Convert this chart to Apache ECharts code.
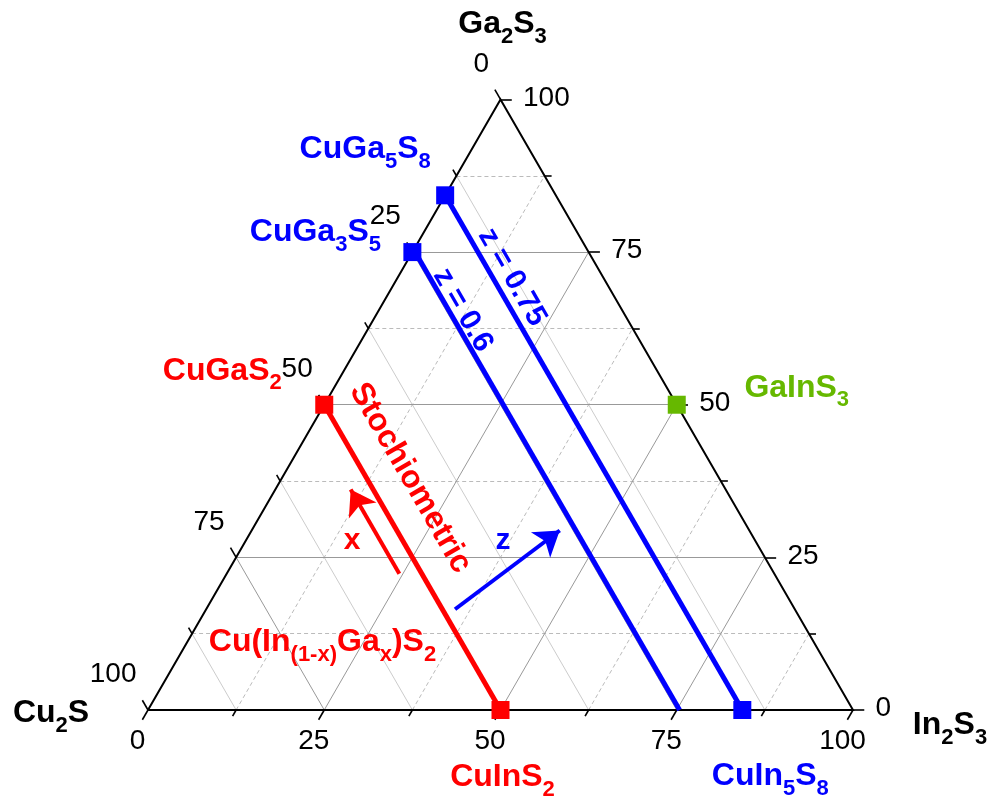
<!DOCTYPE html>
<html><head><meta charset="utf-8">
<script src="https://cdn.jsdelivr.net/npm/echarts/dist/echarts.min.js"></script>
<style>html,body{margin:0;padding:0;background:#fff}#c{width:991px;height:798px}</style>
</head><body><div id="c"></div>
<script>
// ================= DATA =================
// ternary coordinates are [Cu2S, Ga2S3, In2S3] in %
const vertexNames = ['Cu_2S', 'Ga_2S_3', 'In_2S_3'];
const gridSteps = [12.5, 25, 37.5, 50, 62.5, 75, 87.5];
const majorSteps = [25, 50, 75];
const tickValues = [0, 12.5, 25, 37.5, 50, 62.5, 75, 87.5, 100];
const tickLabelValues = [0, 25, 50, 75, 100];
const tickLabelTexts = ['0', '25', '50', '75', '100'];

const compoundNames = ['CuGa_5S_8', 'CuGa_3S_5', 'CuGaS_2', 'GaInS_3', 'CuInS_2', 'CuIn_5S_8'];
const compoundCu = [15.7, 25, 50, 0, 50, 15.7];
const compoundGa = [84.3, 75, 50, 50, 0, 0];
const compoundIn = [0, 0, 0, 50, 50, 84.3];
const compoundColors = ['#0000ff', '#0000ff', '#ff0000', '#66b800', '#ff0000', '#0000ff'];

// constant-Cu2S composition lines
const lineLabels = ['Stochiometric', 'z = 0.6', 'z = 0.75'];
const lineCu = [50, 24.6, 15.7];
const lineColors = ['#ff0000', '#0000ff', '#0000ff'];
const lineLabelAnchor = [[43.8, 38.0, 18.2], [22.6, 65.5, 11.9], [12.9, 70.9, 16.2]];

// arrows: tail / tip [Cu, Ga, In]
const arrowTails = [[53.2, 22.3, 24.5], [48.2, 16.5, 35.3]];
const arrowTips = [[53.2, 36.1, 10.7], [26.9, 29.4, 43.7]];
const arrowColors = ['#ff0000', '#0000ff'];

// free annotations [Cu, Ga, In]
const noteTexts = ['x', 'z', 'Cu(In_{(1-x)}Ga_x)S_2'];
const notePos = [[57.2, 27.7, 15.1], [35.8, 27.7, 36.5], [69.7, 11.1, 19.2]];
const noteColors = ['#ff0000', '#0000ff', '#ff0000'];

// ================= LAYOUT =================
const PX0 = 148, PY0 = 710, SCALE = 7.05, W = 991, H = 798;
const H3 = Math.sqrt(3) / 2;
const FONT = '"Liberation Sans", Arial, Helvetica, sans-serif';

function tern(cu, ga, inn) { return [inn + ga / 2, ga * H3]; }

function rich(s) {
  return s.replace(/_\{([^}]*)\}|_(.)/g, (m, a, b) => '{s|' + (a !== undefined ? a : b) + '}');
}
function richLabel(text, color, F, f, P, extra) {
  return Object.assign({
    show: true, position: 'inside', formatter: rich(text), color: color, opacity: 1,
    fontFamily: FONT, fontWeight: 'bold', fontSize: F, lineHeight: F + 4,
    rich: { s: { color: color, opacity: 1, fontFamily: FONT, fontWeight: 'bold', fontSize: f, lineHeight: f, padding: [P, 0, 0, 0] } }
  }, extra || {});
}

// grid line segments
const majorSeg = [], minorDashSeg = [], minorSolidSeg = [];
gridSteps.forEach(v => {
  const major = majorSteps.indexOf(v) >= 0;
  const gaLine = [tern(100 - v, v, 0), tern(0, v, 100 - v)];
  const inLine = [tern(100 - v, 0, v), tern(0, 100 - v, v)];
  const cuLine = [tern(v, 100 - v, 0), tern(v, 0, 100 - v)];
  if (major) { majorSeg.push({ coords: gaLine }, { coords: inLine }, { coords: cuLine }); }
  else { minorDashSeg.push({ coords: gaLine }, { coords: inLine }); minorSolidSeg.push({ coords: cuLine }); }
});

// ticks (extensions of the grid lines beyond the edges)
const tickSeg = [];
tickValues.forEach(v => {
  const t = (v % 25 === 0) ? 1.6 : 1.0;
  tickSeg.push({ coords: [tern(100 - v, 0, v), tern(100 - v + t, -t, v)] });   // bottom
  tickSeg.push({ coords: [tern(0, v, 100 - v), tern(-t, v, 100 - v + t)] });   // right
  tickSeg.push({ coords: [tern(v, 100 - v, 0), tern(v, 100 - v + t, -t)] });   // left
});

// tick labels
const tickLabelData = [];
tickLabelValues.forEach((v, i) => {
  const base = { show: true, position: [0, 0], fontFamily: FONT, fontSize: 28, color: '#000', opacity: 1, verticalAlign: 'middle', formatter: tickLabelTexts[i] };
  tickLabelData.push({ value: tern(100 - v, 0, v), label: Object.assign({}, base, { align: 'center', offset: [-10, 32] }) });
  tickLabelData.push({ value: tern(0, v, 100 - v), label: Object.assign({}, base, { align: 'left', offset: [23, -1] }) });
  tickLabelData.push({ value: tern(v, 100 - v, 0), label: Object.assign({}, base, { align: 'right', offset: [-11, -35] }) });
});

// vertex labels
const vertexPos = [tern(100, 0, 0), tern(0, 100, 0), tern(0, 0, 100)];
const vertexOffsets = [[-97, 3], [2, -75], [97, 15]];
const vertexLabelData = vertexNames.map((n, i) => ({
  value: vertexPos[i], label: richLabel(n, '#000', 32, 22, 25, { offset: vertexOffsets[i] })
}));

// compound labels
const compoundOffsets = [[-80, -46], [-97, -20], [-102, -34], [120, -17], [2, 67], [28, 66]];
const compoundLabelData = compoundNames.map((n, i) => ({
  value: tern(compoundCu[i], compoundGa[i], compoundIn[i]),
  label: richLabel(n, compoundColors[i], 32, 22, 25, { offset: compoundOffsets[i] })
}));
const markerData = compoundNames.map((n, i) => ({
  value: tern(compoundCu[i], compoundGa[i], compoundIn[i]), itemStyle: { color: compoundColors[i], opacity: 1 }
}));

// composition lines
const compLineSeries = lineCu.map((cu, i) => ({
  type: 'lines', coordinateSystem: 'cartesian2d', silent: true, z: 5,
  lineStyle: { color: lineColors[i], width: 5, opacity: 1 },
  data: [{ coords: [tern(cu, 100 - cu, 0), tern(cu, 0, 100 - cu)] }]
}));
const lineLabelItems = lineLabels.map((t, i) => ({
  value: tern(lineLabelAnchor[i][0], lineLabelAnchor[i][1], lineLabelAnchor[i][2]),
  label: richLabel(t, lineColors[i], i === 0 ? 32 : 30, 20, 0, { rotate: -60 })
}));

// arrows
const arrowSeries = arrowTails.map((a, i) => ({
  type: 'lines', coordinateSystem: 'cartesian2d', silent: true, z: 6,
  symbol: ['none', 'arrow'], symbolSize: 24,
  lineStyle: { color: arrowColors[i], width: 4, opacity: 1 },
  data: [{ coords: [tern(a[0], a[1], a[2]), tern(arrowTips[i][0], arrowTips[i][1], arrowTips[i][2])] }]
}));

const noteData = noteTexts.map((t, i) => ({
  value: tern(notePos[i][0], notePos[i][1], notePos[i][2]),
  label: richLabel(t, noteColors[i], i === 2 ? 32 : 30, 22, 25)
}));

const edge = [tern(100, 0, 0), tern(0, 0, 100), tern(0, 100, 0), tern(100, 0, 0)];

function labelSeries(data, z) {
  return { type: 'scatter', silent: true, z: z || 10, symbolSize: 1, itemStyle: { color: '#fff', opacity: 0 }, data: data, animation: false };
}

const chart = echarts.init(document.getElementById('c'), null, { renderer: 'canvas' });
chart.setOption({
  animation: false,
  backgroundColor: '#fff',
  grid: { left: 0, right: 0, top: 0, bottom: 0, containLabel: false },
  xAxis: { type: 'value', min: -PX0 / SCALE, max: (W - PX0) / SCALE, show: false },
  yAxis: { type: 'value', min: -(H - PY0) / SCALE, max: PY0 / SCALE, show: false },
  series: [
    { type: 'lines', coordinateSystem: 'cartesian2d', silent: true, z: 1, lineStyle: { color: '#cccccc', width: 1, opacity: 1 }, data: minorSolidSeg },
    { type: 'lines', coordinateSystem: 'cartesian2d', silent: true, z: 1, lineStyle: { color: '#bbbbbb', width: 1, type: [4, 3], opacity: 1 }, data: minorDashSeg },
    { type: 'lines', coordinateSystem: 'cartesian2d', silent: true, z: 2, lineStyle: { color: '#999999', width: 1, opacity: 1 }, data: majorSeg },
    { type: 'lines', coordinateSystem: 'cartesian2d', silent: true, z: 3, lineStyle: { color: '#000', width: 1.6, opacity: 1 }, data: tickSeg },
    { type: 'lines', coordinateSystem: 'cartesian2d', polyline: true, silent: true, z: 3, lineStyle: { color: '#000', width: 2, opacity: 1 }, data: [{ coords: edge }] },
    ...compLineSeries,
    ...arrowSeries,
    { type: 'scatter', silent: true, z: 7, symbol: 'rect', symbolSize: 18, itemStyle: { opacity: 1 }, data: markerData, animation: false },
    labelSeries(tickLabelData),
    labelSeries(vertexLabelData),
    labelSeries(compoundLabelData),
    labelSeries(lineLabelItems),
    labelSeries(noteData)
  ]
});
</script></body></html>
